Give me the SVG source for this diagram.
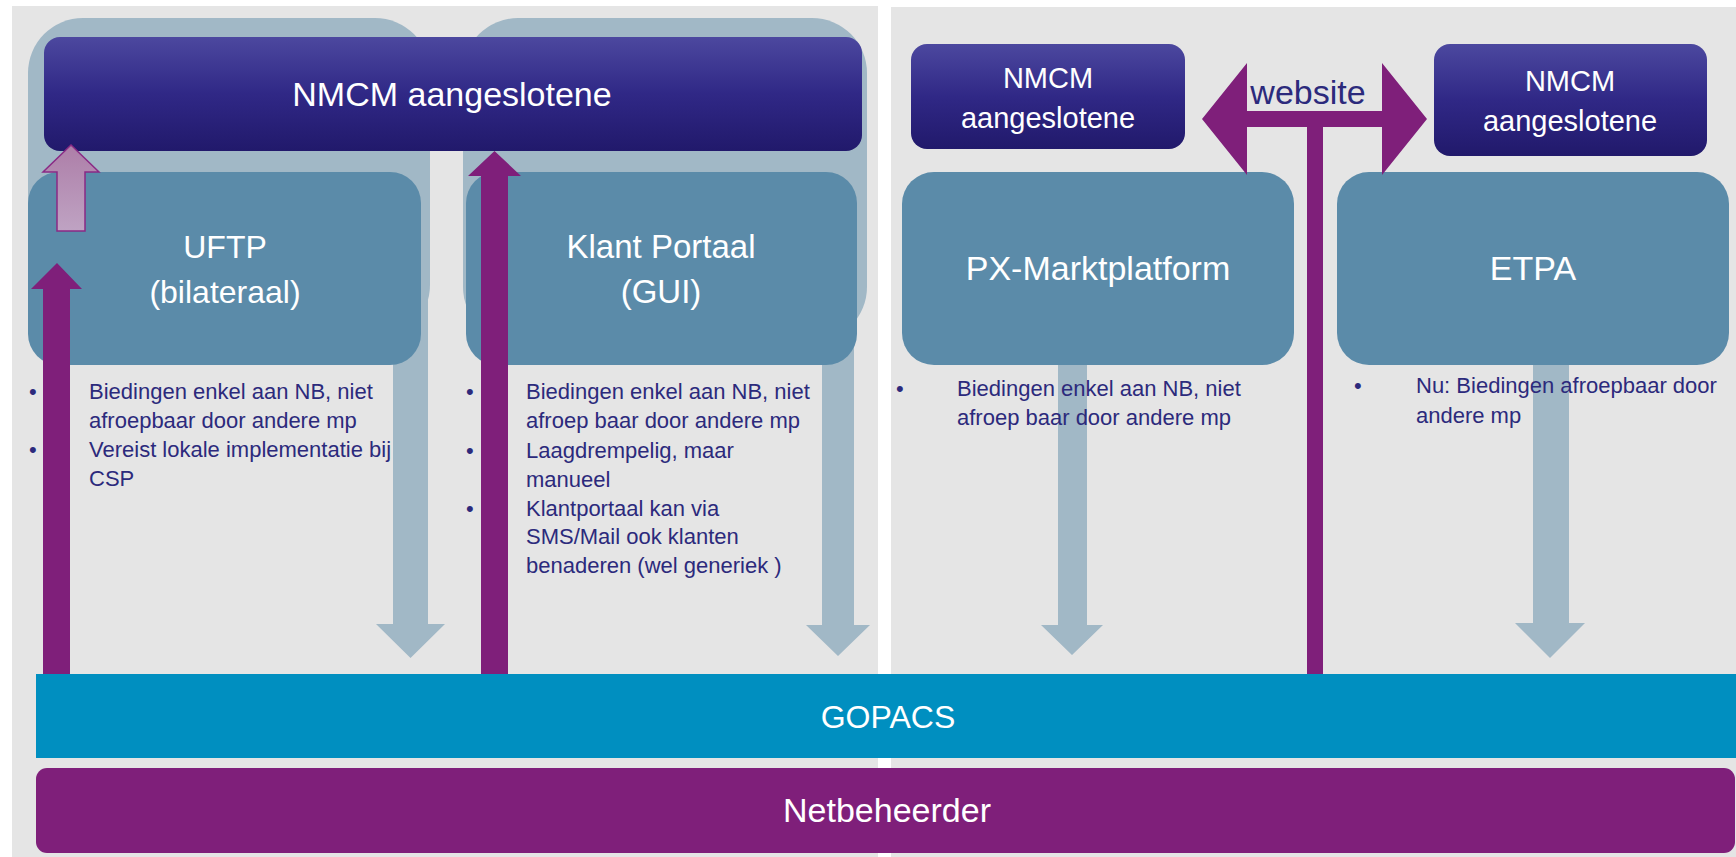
<svg xmlns="http://www.w3.org/2000/svg" width="1736" height="857" viewBox="0 0 1736 857">
<defs>
<linearGradient id="gNav" x1="0" y1="0" x2="0" y2="1">
<stop offset="0" stop-color="#4c489f"/>
<stop offset="0.5" stop-color="#302886"/>
<stop offset="1" stop-color="#21196b"/>
</linearGradient>
<linearGradient id="gPink" x1="0" y1="0" x2="0" y2="1">
<stop offset="0" stop-color="#ad7ea8"/>
<stop offset="1" stop-color="#bfa3c3"/>
</linearGradient>
<style>
.panel{fill:#e5e5e5}
.light{fill:#a1b8c6}
.box{fill:#5b8ba9}
.nav{fill:url(#gNav)}
.pur{fill:#7f1f7a}
.lbl{font-family:"Liberation Sans",Arial,sans-serif;fill:#ffffff;text-anchor:middle}
.bul{font-family:"Liberation Sans",Arial,sans-serif;fill:#2c2a7c;font-size:22px}
.web{font-family:"Liberation Sans",Arial,sans-serif;fill:#2c2a7c;font-size:34px;text-anchor:middle}
</style>
</defs>
<rect width="1736" height="857" fill="#ffffff"/>
<rect class="panel" x="12" y="6" width="866" height="851"/>
<rect class="panel" x="891" y="7" width="845" height="850"/>

<g id="bg-uftp">
<rect class="light" x="28" y="18" width="402" height="322" rx="55"/>
<polygon class="light" points="393,300 428,300 428,624 445,624 410.5,658 376,624 393,624"/>
</g>
<g id="bg-klant">
<rect class="light" x="463" y="18" width="404" height="324" rx="55"/>
<polygon class="light" points="822,300 854,300 854,625 870,625 838,656 806,625 822,625"/>
</g>

<g id="bullets-uftp">
<text class="bul" x="29" y="399">•</text>
<text class="bul" x="89" y="399">Biedingen enkel aan NB, niet</text>
<text class="bul" x="89" y="428">afroepbaar door andere mp</text>
<text class="bul" x="29" y="457">•</text>
<text class="bul" x="89" y="457">Vereist lokale implementatie bij</text>
<text class="bul" x="89" y="486">CSP</text>
</g>
<g id="bullets-klant">
<text class="bul" x="466" y="399">•</text>
<text class="bul" x="526" y="399">Biedingen enkel aan NB, niet</text>
<text class="bul" x="526" y="428">afroep baar door andere mp</text>
<text class="bul" x="466" y="458">•</text>
<text class="bul" x="526" y="458">Laagdrempelig, maar</text>
<text class="bul" x="526" y="487">manueel</text>
<text class="bul" x="466" y="516">•</text>
<text class="bul" x="526" y="516">Klantportaal kan via</text>
<text class="bul" x="526" y="544">SMS/Mail ook klanten</text>
<text class="bul" x="526" y="573">benaderen (wel generiek )</text>
</g>

<g id="nmcm-main">
<rect class="nav" x="44" y="37" width="818" height="114" rx="16"/>
<text class="lbl" x="452" y="106" font-size="34">NMCM aangeslotene</text>
</g>
<g id="uftp">
<rect class="box" x="28" y="172" width="393" height="193" rx="31"/>
<text class="lbl" x="225" y="258" font-size="32">UFTP</text>
<text class="lbl" x="225" y="303" font-size="32">(bilateraal)</text>
</g>
<g id="klant-portaal">
<rect class="box" x="466" y="172" width="391" height="193" rx="31"/>
<text class="lbl" x="661" y="258" font-size="33">Klant Portaal</text>
<text class="lbl" x="661" y="303" font-size="33">(GUI)</text>
</g>

<g id="px-arrow-bg">
<polygon class="light" points="1058,330 1087,330 1087,625 1103,625 1072,655 1041,625 1058,625"/>
</g>
<g id="etpa-arrow-bg">
<polygon class="light" points="1533,330 1569,330 1569,623 1585,623 1550,658 1515,623 1533,623"/>
</g>

<g id="nmcm-left">
<rect class="nav" x="911" y="44" width="274" height="105" rx="16"/>
<text class="lbl" x="1048" y="88" font-size="29">NMCM</text>
<text class="lbl" x="1048" y="128" font-size="29">aangeslotene</text>
</g>
<g id="nmcm-right">
<rect class="nav" x="1434" y="44" width="273" height="112" rx="16"/>
<text class="lbl" x="1570" y="91" font-size="29">NMCM</text>
<text class="lbl" x="1570" y="131" font-size="29">aangeslotene</text>
</g>
<g id="px-marktplatform">
<rect class="box" x="902" y="172" width="392" height="193" rx="32"/>
<text class="lbl" x="1098" y="280" font-size="34">PX-Marktplatform</text>
</g>
<g id="etpa">
<rect class="box" x="1337" y="172" width="392" height="193" rx="32"/>
<text class="lbl" x="1533" y="280" font-size="34">ETPA</text>
</g>

<g id="bullets-px">
<text class="bul" x="896" y="396">•</text>
<text class="bul" x="957" y="396">Biedingen enkel aan NB, niet</text>
<text class="bul" x="957" y="425">afroep baar door andere mp</text>
</g>
<g id="bullets-etpa">
<text class="bul" x="1354" y="393">•</text>
<text class="bul" x="1416" y="393">Nu: Biedingen afroepbaar door</text>
<text class="bul" x="1416" y="423">andere mp</text>
</g>

<g id="connectors">
<polygon fill="url(#gPink)" stroke="#8a2a85" stroke-width="1.5" points="57,231 85,231 85,172 99,172 71,145 43,172 57,172"/>
<polygon class="pur" points="43,674 70,674 70,289 82,289 57,263 31,289 43,289"/>
<polygon class="pur" points="481,674 508,674 508,176 521,176 494.5,151 468,176 481,176"/>
<polygon class="pur" points="1202,119 1247,63 1247,111 1382,111 1382,63 1427,119 1382,175 1382,127 1323,127 1323,674 1307,674 1307,127 1247,127 1247,175"/>
<text class="web" x="1308" y="104">website</text>
</g>

<g id="gopacs">
<rect x="36" y="674" width="1700" height="84" fill="#008fc0"/>
<text class="lbl" x="888" y="728" font-size="32">GOPACS</text>
</g>
<g id="netbeheerder">
<rect class="pur" x="36" y="768" width="1699" height="85" rx="11"/>
<text class="lbl" x="887" y="822" font-size="34">Netbeheerder</text>
</g>
</svg>
